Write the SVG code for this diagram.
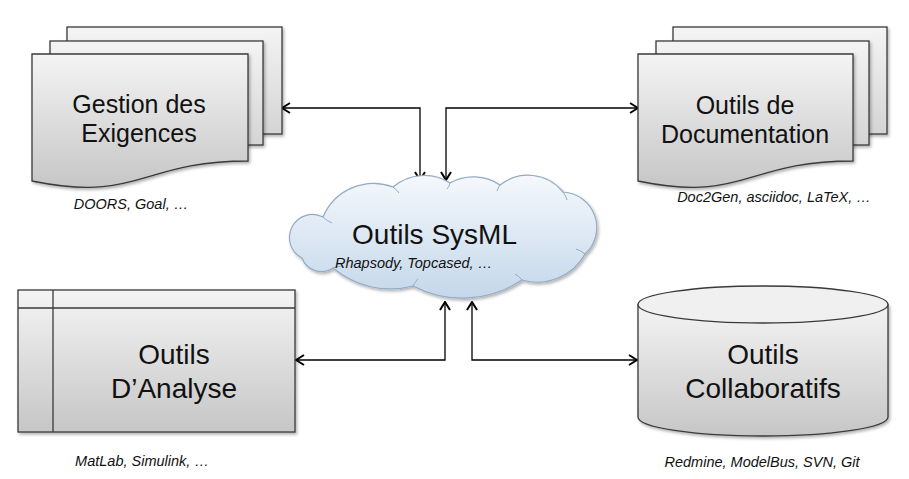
<svg xmlns="http://www.w3.org/2000/svg" width="909" height="479" viewBox="0 0 909 479">
<style>
.main{font-family:"Liberation Sans",Arial,sans-serif;font-size:25px;fill:#111;text-anchor:middle}
.big{font-size:28px}
.cap{font-family:"Liberation Sans",Arial,sans-serif;font-size:14.5px;font-style:italic;fill:#111;text-anchor:middle}
.shape{stroke:#3a3a3a;stroke-width:1.3}
.conn{fill:none;stroke:#000;stroke-width:1.3}
</style>
<defs>
<linearGradient id="gFront" x1="0" y1="0" x2="0" y2="1">
<stop offset="0" stop-color="#f4f4f4"/><stop offset="1" stop-color="#c6c6c6"/>
</linearGradient>
<linearGradient id="gBack" x1="0" y1="0" x2="0" y2="1">
<stop offset="0" stop-color="#f4f4f4"/><stop offset="1" stop-color="#d4d4d4"/>
</linearGradient>
<linearGradient id="gCloud" x1="0" y1="0" x2="0" y2="1">
<stop offset="0" stop-color="#f5f8fc"/><stop offset="1" stop-color="#c4d7ea"/>
</linearGradient>
<filter id="sh" x="-10%" y="-10%" width="125%" height="130%">
<feDropShadow dx="1.5" dy="2" stdDeviation="1.5" flood-color="#000" flood-opacity="0.3"/>
</filter>
<marker id="arr" viewBox="0 0 10 12" refX="9" refY="6" markerWidth="10" markerHeight="12" markerUnits="userSpaceOnUse" orient="auto-start-reverse">
<path d="M1,1 L9,6 L1,11" fill="none" stroke="#000" stroke-width="2"/>
</marker>
</defs>

<g id="connectors">
<path class="conn" d="M282,108 H420 V180" marker-start="url(#arr)" marker-end="url(#arr)"/>
<path class="conn" d="M638,108 H446 V180" marker-start="url(#arr)" marker-end="url(#arr)"/>
<path class="conn" d="M296,360 H445 V302" marker-start="url(#arr)" marker-end="url(#arr)"/>
<path class="conn" d="M637,360 H472 V302" marker-start="url(#arr)" marker-end="url(#arr)"/>
</g>

<g id="exigences">
<rect class="shape" x="67" y="27" width="215" height="107" fill="url(#gBack)" filter="url(#sh)"/>
<rect class="shape" x="50" y="41" width="213" height="104" fill="url(#gBack)" filter="url(#sh)"/>
<path class="shape" d="M32,54 H248 V161 C140,161 140,203 32,181 Z" fill="url(#gFront)" filter="url(#sh)"/>
<text class="main" x="139" y="113">Gestion des</text>
<text class="main" x="139" y="142">Exigences</text>
<text class="cap" x="131" y="209">DOORS, Goal, …</text>
</g>

<g id="documentation">
<rect class="shape" x="673" y="27" width="214" height="107" fill="url(#gBack)" filter="url(#sh)"/>
<rect class="shape" x="656" y="41" width="213" height="104" fill="url(#gBack)" filter="url(#sh)"/>
<path class="shape" d="M638,54 H853 V161 C745,161 745,203 638,181 Z" fill="url(#gFront)" filter="url(#sh)"/>
<text class="main" x="745" y="113.5">Outils de</text>
<text class="main" x="745" y="142.5">Documentation</text>
<text class="cap" x="774" y="202">Doc2Gen, asciidoc, LaTeX, …</text>
</g>

<g id="sysml">
<path d="M302,258 A23,23 0 0 1 323,217 A55,55 0 0 1 393,187 A48,48 0 0 1 450,183 A48,48 0 0 1 500,185 A45,45 0 0 1 563,192 A35.6,35.6 0 0 1 585,254 A54.5,54.5 0 0 1 522,280 A107,107 0 0 1 413,286 A89,89 0 0 1 333,268 A20.6,20.6 0 0 1 302,258 Z" fill="url(#gCloud)" stroke="#93abc6" stroke-width="1.2" filter="url(#sh)"/>
<g fill="none" stroke="#93abc6" stroke-width="1">
<path d="M323,217 Q327,221 332,223"/>
<path d="M393,187 Q397,190 399,193"/>
<path d="M450,183 Q449,187 447,189"/>
<path d="M500,185 Q498,188 497,191"/>
<path d="M563,192 Q566,196 567,200"/>
<path d="M585,254 Q580,250 576,249"/>
<path d="M522,280 Q519,276 515,274"/>
<path d="M413,286 Q415,282 418,279"/>
<path d="M333,268 Q338,266 343,266"/>
</g>
<text class="main big" x="434.5" y="244">Outils SysML</text>
<text class="cap" x="335" y="268" style="text-anchor:start">Rhapsody, Topcased, …</text>
</g>

<g id="analyse">
<rect class="shape" x="18" y="290" width="277" height="142" fill="url(#gFront)" filter="url(#sh)"/>
<path class="shape" d="M18,308 H295 M53,290 V432" fill="none"/>
<text class="main big" x="174" y="364">Outils</text>
<text class="main big" x="174" y="398">D’Analyse</text>
<text class="cap" x="142" y="466">MatLab, Simulink, …</text>
</g>

<g id="collaboratifs">
<path class="shape" d="M638,304.5 V417 A125,19 0 0 0 888,417 V304.5 Z" fill="url(#gFront)" filter="url(#sh)"/>
<ellipse class="shape" cx="763" cy="304.5" rx="125" ry="18.5" fill="#f0f0f0"/>
<text class="main big" x="763" y="364">Outils</text>
<text class="main big" x="763" y="397.5">Collaboratifs</text>
<text class="cap" x="762" y="467">Redmine, ModelBus, SVN, Git</text>
</g>
</svg>
